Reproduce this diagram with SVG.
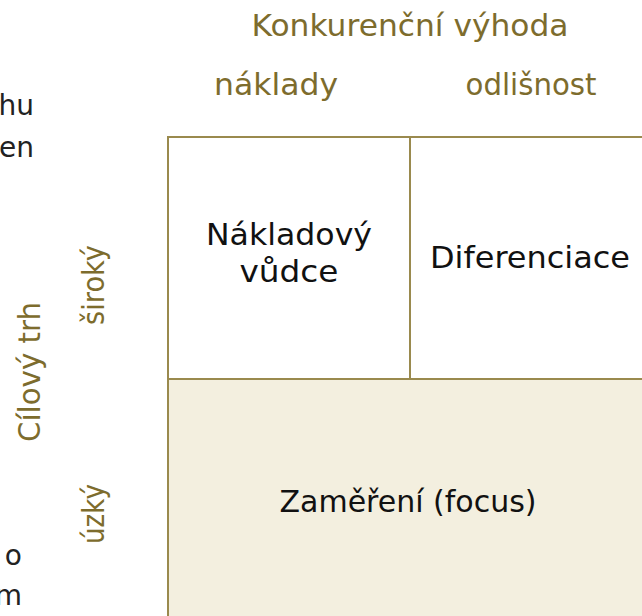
<svg xmlns="http://www.w3.org/2000/svg" width="642" height="616" viewBox="0 0 642 616">
<style>
.lab{font-family:"DejaVu Sans","Liberation Sans",sans-serif;font-size:31px;fill:#7d6c2d}
.cell{font-family:"DejaVu Sans","Liberation Sans",sans-serif;font-size:30px;fill:#111}
.side{font-family:"DejaVu Sans","Liberation Sans",sans-serif;font-size:28px;fill:#222}
.box{stroke:#9a8a4e;stroke-width:2}
</style>
<rect width="642" height="616" fill="#fff"/>
<g id="side-text">
<text class="side" x="34" y="115" text-anchor="end">hu</text>
<text class="side" x="34" y="157" text-anchor="end">en</text>
<text class="side" x="22" y="565" text-anchor="end">o</text>
<text class="side" x="22" y="605" text-anchor="end">m</text>
</g>
<g id="axis-labels">
<text class="lab" x="410" y="36" text-anchor="middle" textLength="317" lengthAdjust="spacingAndGlyphs">Konkurenční výhoda</text>
<text class="lab" x="276" y="95" text-anchor="middle" textLength="124" lengthAdjust="spacingAndGlyphs">náklady</text>
<text class="lab" x="531" y="95" text-anchor="middle" textLength="131" lengthAdjust="spacingAndGlyphs">odlišnost</text>
<text class="lab" transform="translate(40,372) rotate(-90)" text-anchor="middle" textLength="140" lengthAdjust="spacingAndGlyphs">Cílový trh</text>
<text class="lab" transform="translate(104,285) rotate(-90)" text-anchor="middle" textLength="80" lengthAdjust="spacingAndGlyphs">široký</text>
<text class="lab" transform="translate(104,514) rotate(-90)" text-anchor="middle" textLength="60" lengthAdjust="spacingAndGlyphs">úzký</text>
</g>
<g id="cost-leader">
<rect class="box" x="168" y="137" width="242" height="242" fill="#fff"/>
<text class="cell" x="289" y="245" text-anchor="middle" textLength="166" lengthAdjust="spacingAndGlyphs">Nákladový</text>
<text class="cell" x="289" y="282" text-anchor="middle" textLength="99" lengthAdjust="spacingAndGlyphs">vůdce</text>
</g>
<g id="differentiation">
<rect class="box" x="410" y="137" width="250" height="242" fill="#fff"/>
<text class="cell" x="530" y="268" text-anchor="middle" textLength="200" lengthAdjust="spacingAndGlyphs">Diferenciace</text>
</g>
<g id="focus">
<rect class="box" x="168" y="379" width="492" height="260" fill="#f3efdf"/>
<text class="cell" x="408" y="512" text-anchor="middle" textLength="257" lengthAdjust="spacingAndGlyphs">Zaměření (focus)</text>
</g>
<g id="connectors"/>
</svg>
